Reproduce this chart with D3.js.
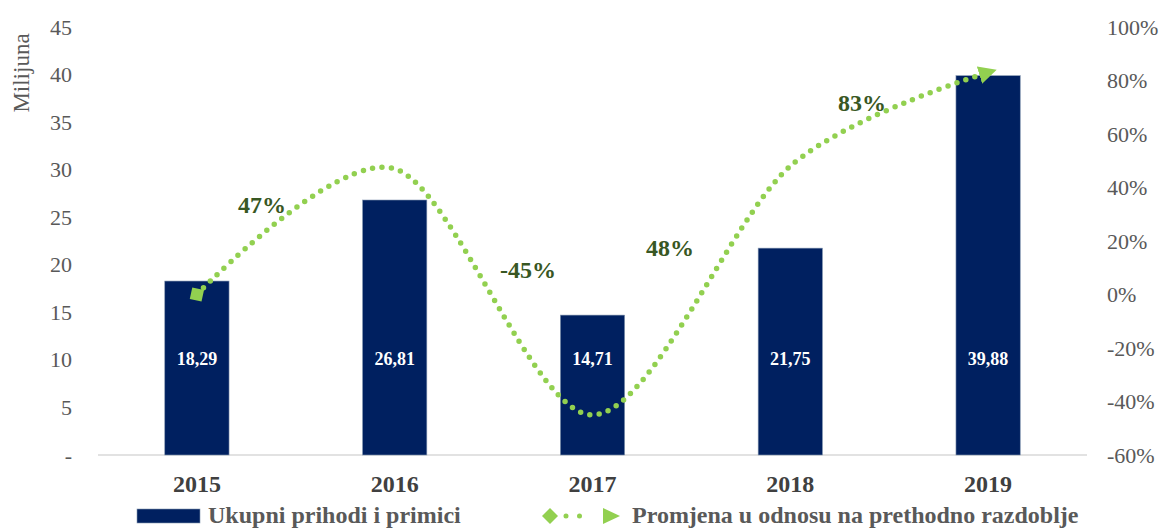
<!DOCTYPE html>
<html>
<head>
<meta charset="utf-8">
<script src="https://cdn.jsdelivr.net/npm/d3@7"></script>
<style>
	body { margin: 0; background: #fff; }
	text { font-family: "Liberation Serif", "Times New Roman", serif; }
</style>
</head>
<body>
<svg></svg>
<script>
const YEARS = ["2015", "2016", "2017", "2018", "2019"];
const PRIHODI = [18.29, 26.81, 14.71, 21.75, 39.88];
const PROMJENA = [0, 0.47, -0.45, 0.48, 0.83];
const PROMJENA_LABELS = ["", "47%", "-45%", "48%", "83%"];
const LEFT_TICKS = [0, 5, 10, 15, 20, 25, 30, 35, 40, 45];
const RIGHT_TICKS = [-0.6, -0.4, -0.2, 0, 0.2, 0.4, 0.6, 0.8, 1.0];

const w = 1163, h = 528;
const margin = {top: 27, bottom: 73, left: 98, right: 76};

const svg = d3.select('svg')
	.attr('width', w)
	.attr('height', h)
	.attr('viewBox', [0, 0, w, h]);

const xScale = d3.scaleBand()
	.domain(YEARS)
	.range([margin.left, w - margin.right])
	.paddingInner(0.675)
	.paddingOuter(0.3375);

const yScale = d3.scaleLinear()
	.domain([0, 45])
	.range([h - margin.bottom, margin.top]);

const y2Scale = d3.scaleLinear()
	.domain([-0.6, 1.0])
	.range([h - margin.bottom, margin.top]);

const axisColor = '#595959';
const serif = '"Liberation Serif", "Times New Roman", serif';

// left axis (labels only)
const yAxis = g => g
	.attr('transform', 'translate(72,0)')
	.call(d3.axisLeft(yScale).tickValues(LEFT_TICKS).tickSize(0).tickPadding(0)
		.tickFormat(d => d === 0 ? '-' : d))
	.call(g => g.select('.domain').remove())
	.call(g => g.selectAll('text')
		.attr('fill', axisColor)
		.style('font-size', '22px')
		.style('font-family', serif));
svg.append('g').call(yAxis);

// right axis
const y2Axis = g => g
	.attr('transform', 'translate(1107,0)')
	.call(d3.axisRight(y2Scale).tickValues(RIGHT_TICKS).tickSize(0).tickPadding(0)
		.tickFormat(d => Math.round(d * 100) + '%'))
	.call(g => g.select('.domain').remove())
	.call(g => g.selectAll('text')
		.attr('fill', axisColor)
		.style('font-size', '22px')
		.style('font-family', serif));
svg.append('g').call(y2Axis);

svg.append('text')
	.attr('transform', 'translate(29,73) rotate(-90)')
	.attr('text-anchor', 'middle')
	.attr('fill', axisColor)
	.style('font-size', '23px')
	.text('Milijuna');

// baseline
svg.append('line')
	.attr('x1', margin.left)
	.attr('x2', w - margin.right)
	.attr('y1', yScale(0))
	.attr('y2', yScale(0))
	.attr('stroke', '#d9d9d9')
	.attr('stroke-width', 1.5);

// category labels
svg.selectAll('text.cat')
	.data(YEARS)
	.enter()
	.append('text')
	.attr('class', 'cat')
	.attr('text-anchor', 'middle')
	.attr('x', d => xScale(d) + xScale.bandwidth() / 2)
	.attr('y', 492)
	.attr('fill', '#404040')
	.style('font-size', '24px')
	.style('font-weight', 'bold')
	.text(d => d);

// bars
svg.selectAll('.bar')
	.data(PRIHODI)
	.enter()
	.append('rect')
	.attr('class', 'bar')
	.attr('x', (d, i) => xScale(YEARS[i]))
	.attr('width', xScale.bandwidth())
	.attr('y', d => yScale(d))
	.attr('height', d => yScale(0) - yScale(d))
	.attr('fill', '#002060')
	.attr('stroke', '#8497b0')
	.attr('stroke-width', 0.6);

svg.selectAll('text.val')
	.data(PRIHODI)
	.enter()
	.append('text')
	.attr('class', 'val')
	.attr('text-anchor', 'middle')
	.attr('x', (d, i) => xScale(YEARS[i]) + xScale.bandwidth() / 2)
	.attr('y', yScale(10) + 5)
	.attr('fill', '#fff')
	.style('font-size', '18px')
	.style('font-weight', 'bold')
	.text(d => d3.format('.2f')(d).replace('.', ','));

// change line
const green = '#92d050';
const defs = svg.append('defs');
defs.append('marker')
	.attr('id', 'arrow')
	.attr('viewBox', '0 0 10 10')
	.attr('refX', 5)
	.attr('refY', 5)
	.attr('markerUnits', 'userSpaceOnUse')
	.attr('markerWidth', 18)
	.attr('markerHeight', 18)
	.attr('orient', 'auto')
	.append('path')
	.attr('d', 'M0,0L10,5L0,10Z')
	.attr('fill', green);

const line = d3.line()
	.x((d, i) => xScale(YEARS[i]) + xScale.bandwidth() / 2)
	.y(d => y2Scale(d))
	.curve(d3.curveCardinal.tension(0.1));

svg.append('path')
	.datum(PROMJENA)
	.attr('d', line)
	.attr('fill', 'none')
	.attr('stroke', green)
	.attr('stroke-width', 5.5)
	.attr('stroke-linecap', 'round')
	.attr('stroke-dasharray', '0 9.5')
	.attr('marker-end', 'url(#arrow)');

const x0 = xScale(YEARS[0]) + xScale.bandwidth() / 2;
svg.append('rect')
	.attr('x', -6)
	.attr('y', -6)
	.attr('width', 12)
	.attr('height', 12)
	.attr('fill', green)
	.attr('transform', `translate(${x0},${y2Scale(PROMJENA[0])}) rotate(12)`);

const LABEL_POS = [null, [262, 213], [528, 278], [670, 256], [862, 111]];
svg.selectAll('text.pct')
	.data(PROMJENA_LABELS)
	.enter()
	.filter(d => d !== '')
	.append('text')
	.attr('class', 'pct')
	.attr('text-anchor', 'middle')
	.attr('x', d => LABEL_POS[PROMJENA_LABELS.indexOf(d)][0])
	.attr('y', d => LABEL_POS[PROMJENA_LABELS.indexOf(d)][1])
	.attr('fill', '#385723')
	.style('font-size', '24px')
	.style('font-weight', 'bold')
	.text(d => d);

// legend
const legend = svg.append('g');
legend.append('rect')
	.attr('x', 137)
	.attr('y', 509)
	.attr('width', 63)
	.attr('height', 14)
	.attr('fill', '#002060')
	.attr('stroke', '#8497b0')
	.attr('stroke-width', 0.6);
legend.append('text')
	.attr('x', 208)
	.attr('y', 523)
	.attr('fill', axisColor)
	.style('font-size', '24px')
	.style('font-weight', 'bold')
	.text('Ukupni prihodi i primici');

legend.append('line')
	.attr('x1', 566)
	.attr('x2', 593)
	.attr('y1', 516)
	.attr('y2', 516)
	.attr('stroke', green)
	.attr('stroke-width', 5)
	.attr('stroke-linecap', 'round')
	.attr('stroke-dasharray', '0 13.5');
legend.append('path')
	.attr('d', 'M550,508L558,516L550,524L542,516Z')
	.attr('fill', green);
legend.append('path')
	.attr('d', 'M603,508L620,516L603,524Z')
	.attr('fill', green);
legend.append('text')
	.attr('x', 632)
	.attr('y', 523)
	.attr('fill', axisColor)
	.style('font-size', '24px')
	.style('font-weight', 'bold')
	.text('Promjena u odnosu na prethodno razdoblje');
</script>
</body>
</html>
